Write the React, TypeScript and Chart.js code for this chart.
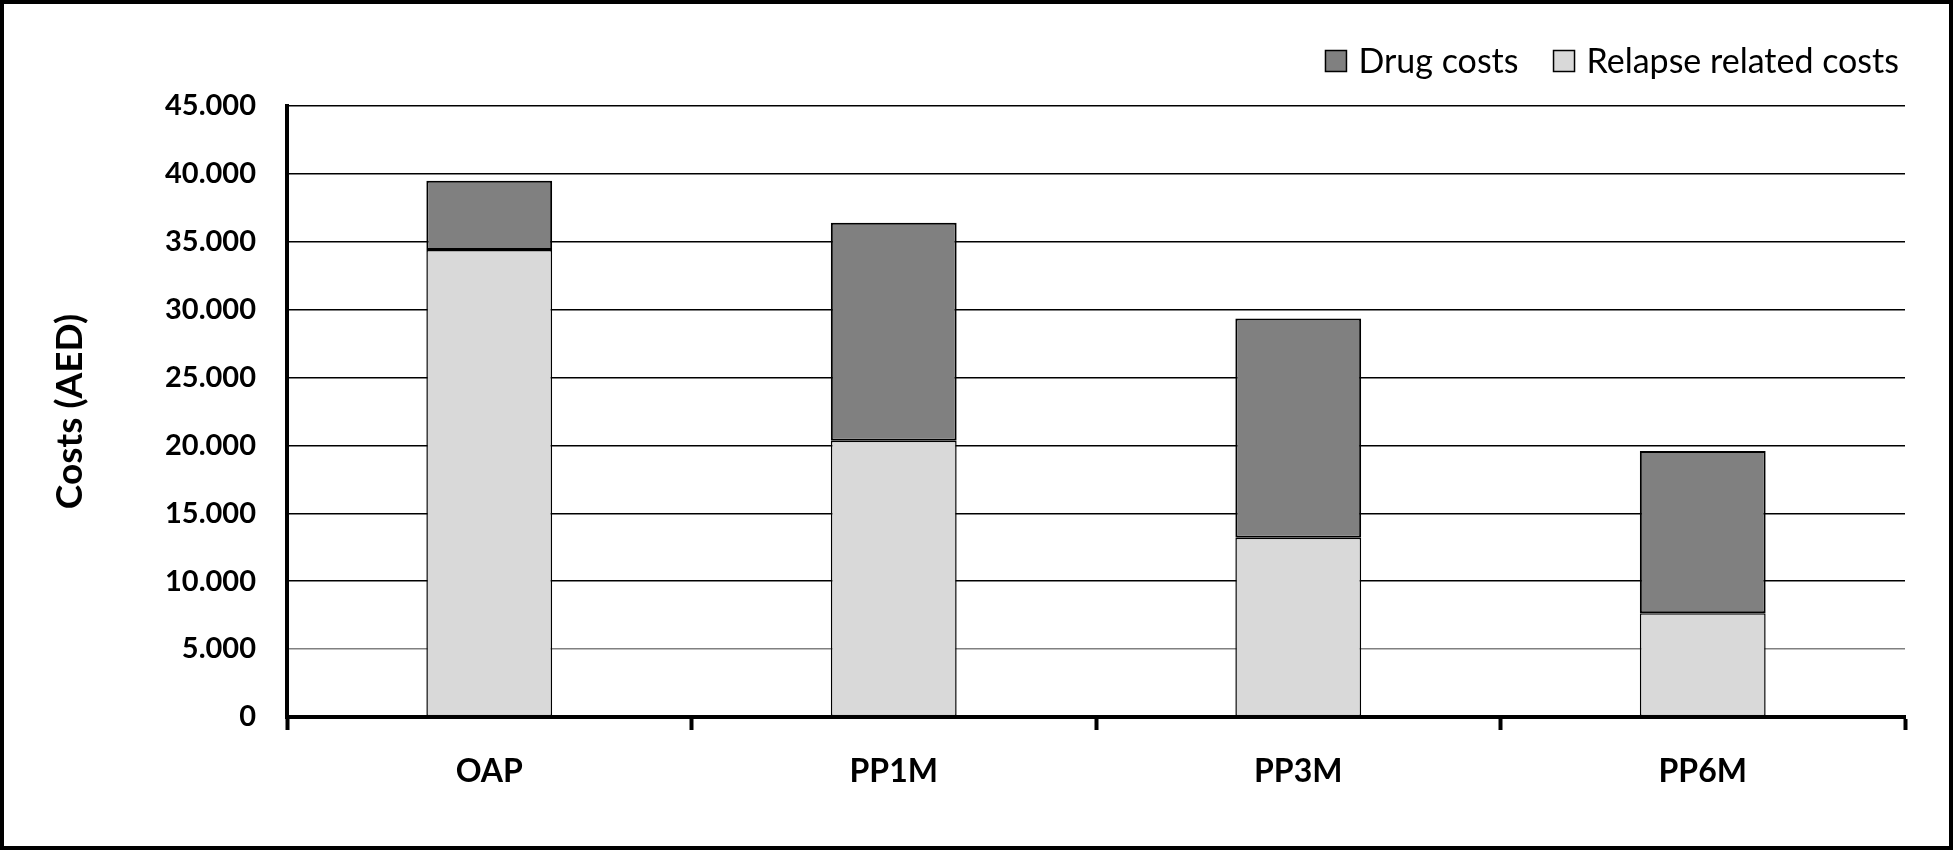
import React, { useEffect, useRef } from "react";
import { Chart, registerables } from "chart.js";

Chart.register(...registerables);

const categories = ["OAP", "PP1M", "PP3M", "PP6M"];
const relapseCosts = [34400, 20350, 13200, 7650];
const drugCosts = [5100, 16050, 16150, 11950];
const yTicks = [0, 5000, 10000, 15000, 20000, 25000, 30000, 35000, 40000, 45000];
const seriesLabels = ["Relapse related costs", "Drug costs"];
const seriesColors = ["#d9d9d9", "#808080"];

const FONT = "Lato, 'Open Sans', sans-serif";

const fmt = (v: number) =>
  v === 0 ? "0" : String(Math.round(v)).replace(/\B(?=(\d{3})+(?!\d))/g, ".");

const legendPlugin = {
  id: "customLegend",
  afterDraw(chart: any) {
    const ctx = chart.ctx;
    const items = chart.data.datasets
      .map((d: any) => ({ label: d.label, color: d.backgroundColor }))
      .reverse();
    ctx.save();
    ctx.font = `34px ${FONT}`;
    ctx.textBaseline = "middle";
    const box = 21;
    const gap = 12;
    const itemGap = 35;
    const right = 1899;
    const cy = 61;
    const widths = items.map((it: any) => box + gap + ctx.measureText(it.label).width);
    const total = widths.reduce((a: number, b: number) => a + b, 0) + itemGap * (items.length - 1);
    let x = right - total;
    items.forEach((it: any, i: number) => {
      ctx.fillStyle = it.color;
      ctx.fillRect(x, cy - box / 2, box, box);
      ctx.lineWidth = 1.5;
      ctx.strokeStyle = "#000";
      ctx.strokeRect(x, cy - box / 2, box, box);
      ctx.fillStyle = "#000";
      ctx.textAlign = "left";
      ctx.fillText(it.label, x + box + gap, cy + 1);
      x += widths[i] + itemGap;
    });
    ctx.restore();
  },
};

export default function App() {
  const ref = useRef<HTMLCanvasElement>(null);
  useEffect(() => {
    if (!ref.current) return;
    const chart = new Chart(ref.current, {
      type: "bar",
      data: {
        labels: categories,
        datasets: [
          {
            label: seriesLabels[0],
            data: relapseCosts,
            backgroundColor: seriesColors[0],
            borderColor: "#000",
            borderWidth: 1.5,
            borderSkipped: false,
            categoryPercentage: 1,
            barPercentage: 0.311,
          },
          {
            label: seriesLabels[1],
            data: drugCosts,
            backgroundColor: seriesColors[1],
            borderColor: "#000",
            borderWidth: 2,
            borderSkipped: false,
            categoryPercentage: 1,
            barPercentage: 0.311,
          },
        ],
      },
      options: {
        animation: false,
        responsive: false,
        layout: { padding: { top: 106, right: 48, left: 0, bottom: 0 } },
        plugins: {
          legend: { display: false },
          tooltip: { enabled: false },
        },
        scales: {
          x: {
            stacked: true,
            afterFit: (s: any) => {
              s.height = 133;
            },
            border: { display: true, color: "#000", width: 4 },
            grid: {
              offset: true,
              drawOnChartArea: false,
              drawTicks: true,
              tickLength: 13,
              tickWidth: 4,
              tickColor: "#000",
            },
            ticks: {
              color: "#000",
              padding: 22,
              font: { family: FONT, size: 32, weight: "bold" },
            },
          },
          y: {
            stacked: true,
            min: 0,
            max: 45000,
            afterFit: (s: any) => {
              s.width = 287;
            },
            afterBuildTicks: (s: any) => {
              s.ticks = yTicks.map((v) => ({ value: v }));
            },
            border: { display: true, color: "#000", width: 4 },
            grid: {
              drawTicks: false,
              lineWidth: 1.5,
              color: (c: any) => (c.tick && c.tick.value === 5000 ? "#808080" : "#000"),
            },
            ticks: {
              color: "#000",
              padding: 31,
              font: { family: FONT, size: 29, weight: "bold" },
              callback: (v: any) => fmt(Number(v)),
            },
            title: {
              display: true,
              text: "Costs (AED)",
              color: "#000",
              padding: { top: 48, bottom: 0 },
              font: { family: FONT, size: 37, weight: "bold" },
            },
          },
        },
      },
      plugins: [legendPlugin],
    });
    return () => chart.destroy();
  }, []);

  return (
    <div style={{ position: "absolute", left: 0, top: 0, width: 1953, height: 850, background: "#fff" }}>
      <canvas ref={ref} width={1953} height={850} style={{ position: "absolute", left: 0, top: 0 }} />
      <div
        style={{
          position: "absolute",
          left: 0,
          top: 0,
          width: 1953,
          height: 850,
          border: "4px solid #000",
          boxSizing: "border-box",
          pointerEvents: "none",
        }}
      />
    </div>
  );
}
